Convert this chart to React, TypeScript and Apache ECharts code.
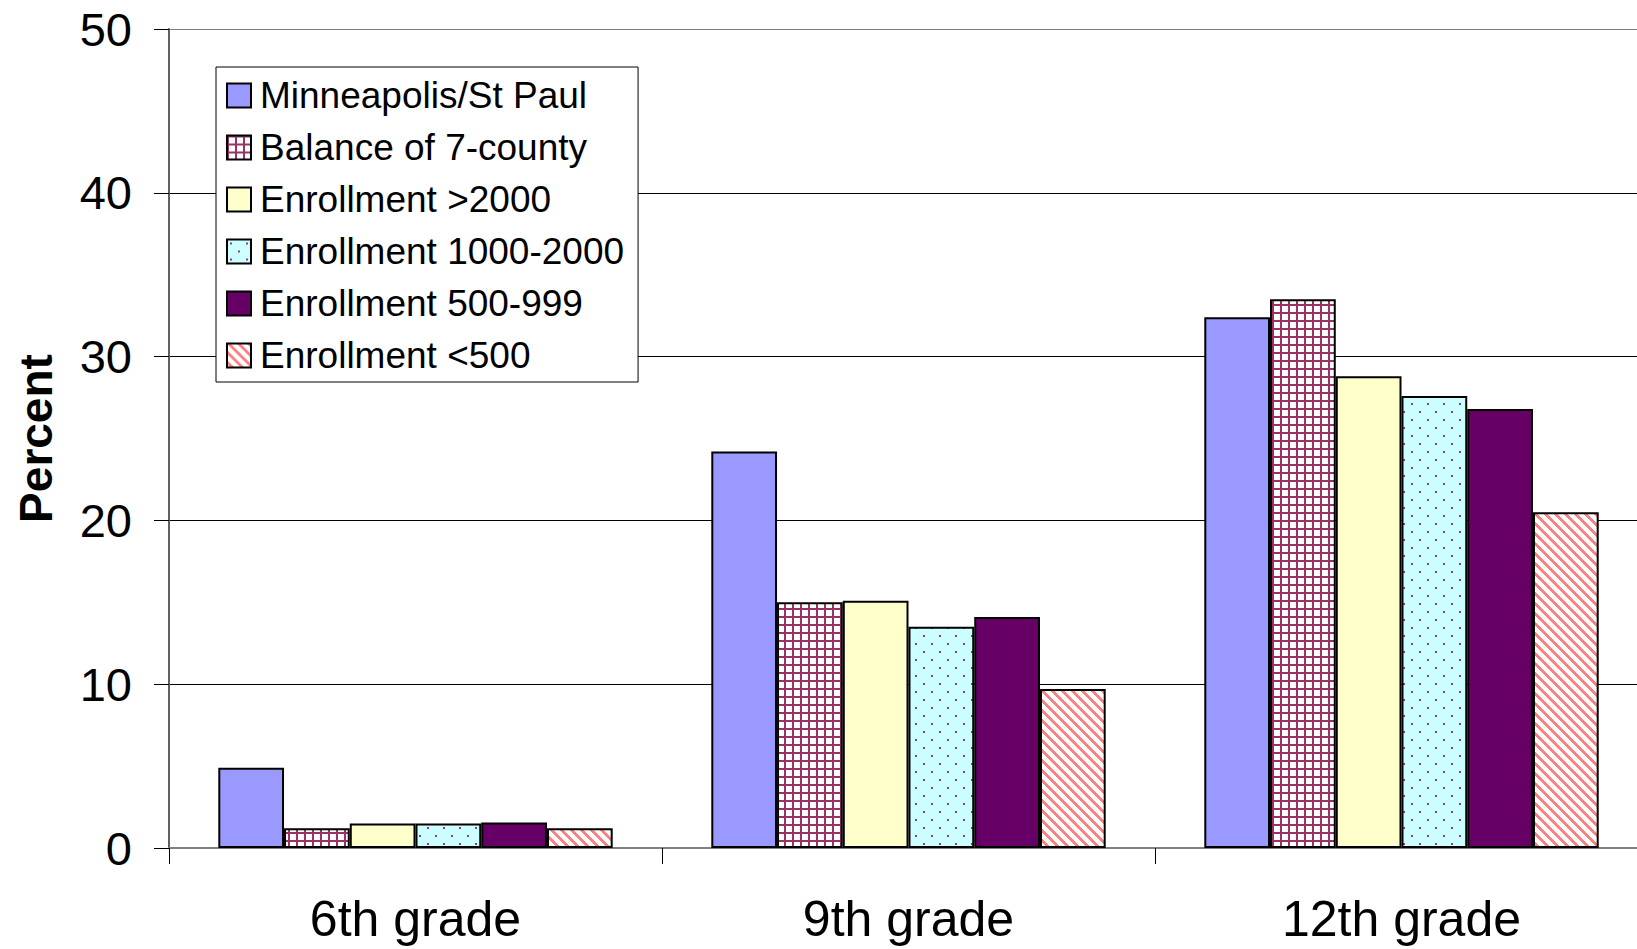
import React, { useEffect, useRef } from "react";
import * as echarts from "echarts";

const grades = ["6th grade", "9th grade", "12th grade"];
const seriesNames = [
  "Minneapolis/St Paul",
  "Balance of 7-county",
  "Enrollment >2000",
  "Enrollment 1000-2000",
  "Enrollment 500-999",
  "Enrollment <500",
];
const mplsStPaul = [4.9, 24.2, 32.4];
const balance7County = [1.2, 15.0, 33.5];
const enrollmentOver2000 = [1.5, 15.1, 28.8];
const enrollment1000to2000 = [1.5, 13.5, 27.6];
const enrollment500to999 = [1.55, 14.1, 26.8];
const enrollmentUnder500 = [1.2, 9.7, 20.5];
const yTicks = [0, 10, 20, 30, 40, 50];

const FONT = "'Liberation Sans', Arial, sans-serif";

function makePattern(w: number, h: number, draw: (ctx: CanvasRenderingContext2D) => void) {
  const c = document.createElement("canvas");
  c.width = w;
  c.height = h;
  const ctx = c.getContext("2d") as CanvasRenderingContext2D;
  draw(ctx);
  return { image: c, repeat: "repeat", imageWidth: w, imageHeight: h } as any;
}

export default function App() {
  const ref = useRef<HTMLDivElement>(null);
  useEffect(() => {
    if (!ref.current) return;
    const chart = echarts.init(ref.current, null, { renderer: "svg" });

    const gridPattern = makePattern(8, 8, (ctx) => {
      ctx.fillStyle = "#ffffff";
      ctx.fillRect(0, 0, 8, 8);
      ctx.fillStyle = "#993366";
      ctx.fillRect(0, 0, 8, 2);
      ctx.fillRect(0, 0, 2, 8);
    });
    const dotPattern = makePattern(16, 16, (ctx) => {
      ctx.fillStyle = "#CCFFFF";
      ctx.fillRect(0, 0, 16, 16);
      ctx.fillStyle = "#993399";
      ctx.fillRect(3, 3, 2, 2);
      ctx.fillRect(11, 11, 2, 2);
    });
    const stripePattern = makePattern(10, 10, (ctx) => {
      const img = ctx.createImageData(10, 10);
      for (let y = 0; y < 10; y++) {
        for (let x = 0; x < 10; x++) {
          const i = (y * 10 + x) * 4;
          const on = (((x - y) % 10) + 10) % 10 < 4;
          img.data[i] = 255;
          img.data[i + 1] = on ? 128 : 255;
          img.data[i + 2] = on ? 128 : 255;
          img.data[i + 3] = 255;
        }
      }
      ctx.putImageData(img, 0, 0);
    });

    const fills: any[] = ["#9999FF", gridPattern, "#FFFFCC", dotPattern, "#660066", stripePattern];
    const values = [
      mplsStPaul,
      balance7County,
      enrollmentOver2000,
      enrollment1000to2000,
      enrollment500to999,
      enrollmentUnder500,
    ];

    chart.setOption({
      animation: false,
      backgroundColor: "#ffffff",
      textStyle: { fontFamily: FONT, color: "#000" },
      grid: { left: 169, top: 29, width: 1479, height: 819, containLabel: false },
      legend: {
        orient: "vertical",
        left: 216,
        top: 67,
        data: seriesNames,
        icon: "rect",
        itemWidth: 24,
        itemHeight: 24,
        itemGap: 15,
        padding: [10, 14, 8, 10],
        backgroundColor: "#ffffff",
        borderColor: "#000000",
        borderWidth: 1,
        textStyle: { fontFamily: FONT, fontSize: 37, lineHeight: 37, color: "#000", padding: [0, 0, 0, 4] },
        itemStyle: { borderColor: "#000", borderWidth: 2 },
      },
      xAxis: {
        type: "category",
        data: grades,
        axisLine: { show: true, lineStyle: { color: "#808080", width: 2 } },
        axisTick: { show: true, length: 16, lineStyle: { color: "#000", width: 1 } },
        axisLabel: { fontFamily: FONT, fontSize: 50, color: "#000", margin: 46 },
        splitLine: { show: false },
      },
      yAxis: {
        type: "value",
        min: yTicks[0],
        max: yTicks[yTicks.length - 1],
        interval: 10,
        name: "Percent",
        nameLocation: "middle",
        nameGap: 110,
        nameTextStyle: { fontFamily: FONT, fontSize: 46, fontWeight: "bold", color: "#000" },
        axisLine: { show: true, lineStyle: { color: "#606060", width: 2 } },
        axisTick: { show: true, length: 15, lineStyle: { color: "#000", width: 1 } },
        axisLabel: { fontFamily: FONT, fontSize: 47, color: "#000", margin: 37 },
        splitLine: {
          show: true,
          lineStyle: { color: ["#808080", "#000", "#000", "#000", "#000", "#808080"], width: 1 },
        },
      },
      series: seriesNames.map((name, i) => ({
        name,
        type: "bar",
        data: values[i],
        barGap: "0%",
        barCategoryGap: "20%",
        itemStyle: { color: fills[i], borderColor: "#000", borderWidth: 2 },
        emphasis: { disabled: true },
      })),
    });
    return () => chart.dispose();
  }, []);

  return (
    <div
      ref={ref}
      style={{ position: "fixed", left: 0, top: 0, width: 1660, height: 949, background: "#fff" }}
    />
  );
}
